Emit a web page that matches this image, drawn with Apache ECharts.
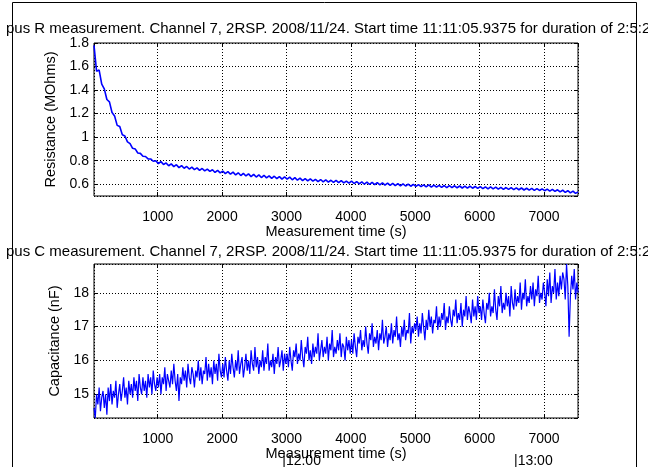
<!DOCTYPE html>
<html>
<head>
<meta charset="utf-8">
<script src="https://cdn.jsdelivr.net/npm/echarts@6/dist/echarts.min.js"></script>
<style>
  html, body { margin: 0; padding: 0; background: #fff; }
  #chart { width: 648px; height: 467px; }
</style>
</head>
<body>
<div id="chart"></div>
<script>
// sample times (s) of the resistance trace
const timeR = [
  10, 50, 90, 130, 170, 210, 250, 290, 330, 370, 410, 450, 490, 530, 570, 610, 650, 690, 730, 770, 810, 850, 890, 930, 970,
  1010, 1050, 1090, 1130, 1170, 1210, 1250, 1290, 1330, 1370, 1410, 1450, 1490, 1530, 1570, 1610, 1650, 1690, 1730, 1770, 1810, 1850, 1890, 1930, 1970,
  2010, 2050, 2090, 2130, 2170, 2210, 2250, 2290, 2330, 2370, 2410, 2450, 2490, 2530, 2570, 2610, 2650, 2690, 2730, 2770, 2810, 2850, 2890, 2930, 2970,
  3010, 3050, 3090, 3130, 3170, 3210, 3250, 3290, 3330, 3370, 3410, 3450, 3490, 3530, 3570, 3610, 3650, 3690, 3730, 3770, 3810, 3850, 3890, 3930, 3970,
  4010, 4050, 4090, 4130, 4170, 4210, 4250, 4290, 4330, 4370, 4410, 4450, 4490, 4530, 4570, 4610, 4650, 4690, 4730, 4770, 4810, 4850, 4890, 4930, 4970,
  5010, 5050, 5090, 5130, 5170, 5210, 5250, 5290, 5330, 5370, 5410, 5450, 5490, 5530, 5570, 5610, 5650, 5690, 5730, 5770, 5810, 5850, 5890, 5930, 5970,
  6010, 6050, 6090, 6130, 6170, 6210, 6250, 6290, 6330, 6370, 6410, 6450, 6490, 6530, 6570, 6610, 6650, 6690, 6730, 6770, 6810, 6850, 6890, 6930, 6970,
  7010, 7050, 7090, 7130, 7170, 7210, 7250, 7290, 7330, 7370, 7410, 7450, 7490, 7530
];

// resistance (MOhms)
const resistance = [
  1.78, 1.56, 1.57, 1.45, 1.41, 1.32, 1.30, 1.21, 1.18, 1.10, 1.09, 1.02, 1.01, 0.96, 0.945, 0.905, 0.90, 0.865, 0.862, 0.838, 0.836, 0.815, 0.815, 0.795, 0.80,
  0.775, 0.792, 0.768, 0.781, 0.757, 0.773, 0.750, 0.766, 0.741, 0.758, 0.736, 0.751, 0.729, 0.745, 0.724, 0.739, 0.718, 0.734, 0.713, 0.728, 0.709, 0.723, 0.700, 0.718, 0.697,
  0.712, 0.690, 0.707, 0.685, 0.703, 0.679, 0.697, 0.674, 0.692, 0.670, 0.688, 0.665, 0.684, 0.661, 0.679, 0.657, 0.676, 0.654, 0.671, 0.650, 0.668, 0.647, 0.665, 0.644, 0.662,
  0.643, 0.660, 0.638, 0.656, 0.634, 0.652, 0.631, 0.648, 0.628, 0.645, 0.626, 0.642, 0.623, 0.640, 0.620, 0.637, 0.618, 0.634, 0.615, 0.632, 0.613, 0.630, 0.611, 0.627, 0.609,
  0.626, 0.606, 0.623, 0.603, 0.620, 0.600, 0.618, 0.598, 0.615, 0.596, 0.613, 0.594, 0.611, 0.592, 0.609, 0.590, 0.607, 0.588, 0.605, 0.586, 0.603, 0.585, 0.601, 0.583, 0.599,
  0.581, 0.597, 0.579, 0.595, 0.578, 0.594, 0.576, 0.592, 0.575, 0.591, 0.574, 0.589, 0.572, 0.588, 0.571, 0.587, 0.570, 0.585, 0.568, 0.584, 0.567, 0.583, 0.566, 0.581, 0.564,
  0.580, 0.563, 0.578, 0.561, 0.577, 0.560, 0.575, 0.558, 0.574, 0.557, 0.572, 0.556, 0.571, 0.554, 0.569, 0.553, 0.568, 0.551, 0.566, 0.550, 0.565, 0.548, 0.563, 0.547, 0.561,
  0.545, 0.559, 0.542, 0.556, 0.539, 0.553, 0.535, 0.549, 0.531, 0.545, 0.527, 0.541, 0.522, 0.535
];

// sample times (s) of the capacitance trace
const timeC = [
  10, 30, 50, 70, 90, 110, 130, 150, 170, 190, 210, 230, 250, 270, 290, 310, 330, 350, 370, 390,
  410, 430, 450, 470, 490, 510, 530, 550, 570, 590, 610, 630, 650, 670, 690, 710, 730, 750, 770, 790,
  810, 830, 850, 870, 890, 910, 930, 950, 970, 990,
  1010, 1030, 1050, 1070, 1090, 1110, 1130, 1150, 1170, 1190, 1210, 1230, 1250, 1270, 1290, 1310, 1330, 1350, 1370, 1390,
  1410, 1430, 1450, 1470, 1490, 1510, 1530, 1550, 1570, 1590, 1610, 1630, 1650, 1670, 1690, 1710, 1730, 1750, 1770, 1790,
  1810, 1830, 1850, 1870, 1890, 1910, 1930, 1950, 1970, 1990,
  2010, 2030, 2050, 2070, 2090, 2110, 2130, 2150, 2170, 2190, 2210, 2230, 2250, 2270, 2290, 2310, 2330, 2350, 2370, 2390,
  2410, 2430, 2450, 2470, 2490, 2510, 2530, 2550, 2570, 2590, 2610, 2630, 2650, 2670, 2690, 2710, 2730, 2750, 2770, 2790,
  2810, 2830, 2850, 2870, 2890, 2910, 2930, 2950, 2970, 2990,
  3010, 3030, 3050, 3070, 3090, 3110, 3130, 3150, 3170, 3190, 3210, 3230, 3250, 3270, 3290, 3310, 3330, 3350, 3370, 3390,
  3410, 3430, 3450, 3470, 3490, 3510, 3530, 3550, 3570, 3590, 3610, 3630, 3650, 3670, 3690, 3710, 3730, 3750, 3770, 3790,
  3810, 3830, 3850, 3870, 3890, 3910, 3930, 3950, 3970, 3990,
  4010, 4030, 4050, 4070, 4090, 4110, 4130, 4150, 4170, 4190, 4210, 4230, 4250, 4270, 4290, 4310, 4330, 4350, 4370, 4390,
  4410, 4430, 4450, 4470, 4490, 4510, 4530, 4550, 4570, 4590, 4610, 4630, 4650, 4670, 4690, 4710, 4730, 4750, 4770, 4790,
  4810, 4830, 4850, 4870, 4890, 4910, 4930, 4950, 4970, 4990,
  5010, 5030, 5050, 5070, 5090, 5110, 5130, 5150, 5170, 5190, 5210, 5230, 5250, 5270, 5290, 5310, 5330, 5350, 5370, 5390,
  5410, 5430, 5450, 5470, 5490, 5510, 5530, 5550, 5570, 5590, 5610, 5630, 5650, 5670, 5690, 5710, 5730, 5750, 5770, 5790,
  5810, 5830, 5850, 5870, 5890, 5910, 5930, 5950, 5970, 5990,
  6010, 6030, 6050, 6070, 6090, 6110, 6130, 6150, 6170, 6190, 6210, 6230, 6250, 6270, 6290, 6310, 6330, 6350, 6370, 6390,
  6410, 6430, 6450, 6470, 6490, 6510, 6530, 6550, 6570, 6590, 6610, 6630, 6650, 6670, 6690, 6710, 6730, 6750, 6770, 6790,
  6810, 6830, 6850, 6870, 6890, 6910, 6930, 6950, 6970, 6990,
  7010, 7030, 7050, 7070, 7090, 7110, 7130, 7150, 7170, 7190, 7210, 7230, 7250, 7270, 7290, 7310, 7330, 7350, 7370, 7390,
  7410, 7430, 7450, 7470, 7490, 7510, 7530
];

// capacitance (nF)
const capacitance = [
  14.6, 14.3, 15.0, 14.7, 15.2, 14.5, 14.9, 15.1, 14.6, 15.0, 14.4, 15.2, 14.8, 15.3, 14.7, 15.1, 14.9, 15.4, 14.6, 15.0,
  15.3, 14.8, 15.1, 15.5, 14.9, 15.2, 14.7, 15.4, 15.0, 15.3, 14.9, 15.5, 15.1, 15.4, 14.8, 15.6, 15.2, 15.0, 15.5, 15.1,
  15.4, 14.9, 15.6, 15.2, 15.5, 15.0, 15.7, 15.3, 15.1, 15.5,
  15.2, 15.6, 15.0, 15.5, 15.3, 15.8, 15.1, 15.6, 15.4, 15.2, 15.7, 15.3, 15.9, 15.4, 15.1, 15.6, 14.8, 15.5, 15.3, 15.8,
  15.4, 15.7, 15.2, 15.9, 15.5, 15.3, 15.8, 15.6, 15.2, 15.7, 15.5, 16.0, 15.4, 15.8, 15.3, 15.7, 15.6, 16.1, 15.4, 15.9,
  15.5, 15.8, 15.3, 16.0, 15.6, 15.9, 15.4, 16.2, 15.7, 15.5,
  15.9, 15.5, 16.1, 15.7, 15.4, 16.0, 15.6, 16.2, 15.8, 15.5, 16.0, 15.7, 16.3, 15.6, 15.9, 16.1, 15.5, 15.8, 16.2, 15.7,
  16.0, 15.6, 16.3, 15.9, 15.7, 16.4, 15.8, 16.1, 15.6, 16.0, 15.8, 16.3, 15.7, 16.1, 15.9, 16.5, 15.7, 16.0, 15.8, 16.2,
  15.6, 16.1, 15.9, 16.4, 15.8, 16.0, 16.3, 15.7, 16.2, 15.9,
  16.2, 15.8, 16.4, 16.0, 15.7, 16.3, 16.1, 16.5, 15.9, 16.2, 16.0, 16.6, 16.1, 15.8, 16.4, 16.2, 16.7, 16.0, 16.3, 15.9,
  16.5, 16.1, 16.4, 16.2, 16.8, 16.0, 16.3, 16.6, 16.1, 16.4, 16.2, 16.7, 16.0, 16.5, 16.3, 16.9, 16.1, 16.4, 16.2, 16.6,
  16.3, 16.8, 16.1, 16.5, 16.4, 16.0, 16.7, 16.3, 16.6, 16.2,
  16.6, 16.2, 16.8, 16.4, 16.1, 16.7, 16.5, 16.9, 16.3, 16.6, 16.4, 17.0, 16.5, 16.2, 16.8, 16.6, 17.1, 16.4, 16.7, 16.5,
  16.9, 16.3, 16.8, 16.6, 17.2, 16.5, 16.7, 17.0, 16.4, 16.8, 16.6, 17.1, 16.5, 16.9, 16.7, 17.3, 16.6, 16.8, 16.4, 17.0,
  16.7, 17.2, 16.6, 16.9, 16.8, 17.4, 16.5, 17.0, 16.8, 17.1,
  16.9, 17.3, 16.7, 17.1, 16.8, 17.4, 17.0, 16.6, 17.2, 16.9, 17.5, 17.0, 17.3, 16.8, 17.2, 17.1, 17.6, 16.9, 17.3, 17.0,
  17.4, 17.2, 17.7, 16.9, 17.3, 17.1, 17.6, 17.2, 17.0, 17.5, 17.3, 17.8, 17.1, 17.4, 17.2, 17.7, 17.0, 17.5, 17.3, 17.9,
  17.2, 17.6, 17.4, 17.1, 17.8, 17.3, 17.6, 17.2, 17.9, 17.4,
  17.6, 17.2, 17.8, 17.4, 17.1, 17.7, 17.5, 18.0, 17.3, 17.6, 17.4, 18.1, 17.5, 17.2, 17.9, 17.6, 18.2, 17.4, 17.7, 17.5,
  18.0, 17.6, 17.9, 17.3, 18.2, 17.7, 17.5, 18.1, 17.6, 17.9, 17.7, 18.3, 17.5, 18.0, 17.8, 18.4, 17.6, 17.9, 17.7, 18.2,
  17.8, 18.3, 17.6, 18.1, 17.9, 18.5, 17.7, 18.0, 17.8, 18.3,
  18.0, 17.6, 18.4, 17.9, 18.6, 17.7, 18.2, 18.0, 18.7, 17.8, 18.3, 17.9, 18.5, 18.1, 18.6, 18.4, 17.8, 18.85, 18.2, 16.7,
  17.9, 18.5, 18.1, 18.7, 17.8, 18.3, 18.0
];

const titleR = 'pus R measurement. Channel 7, 2RSP. 2008/11/24. Start time 11:11:05.9375 for duration of 2:5:2';
const titleC = 'pus C measurement. Channel 7, 2RSP. 2008/11/24. Start time 11:11:05.9375 for duration of 2:5:2';

// clock-time marks on the time axis
const clockMarks = [
  { t: 2934, label: '|12:00' },
  { t: 6534, label: '|13:00' },
];

const font = '"Liberation Sans", Arial, Helvetica, sans-serif';
const tickFont = 14;
const nameFont = 14.5;
const titleFont = 15;
const timeMin = 10;
const timeMax = 7528;

const dotted = { show: true, lineStyle: { color: '#000', width: 1, type: [1, 2] } };
const tick = { show: true, inside: true, length: 4, lineStyle: { color: '#000', width: 1 } };

function timeAxis(gridIndex, withLabels) {
  return {
    type: 'value',
    gridIndex: gridIndex,
    position: withLabels ? 'bottom' : 'top',
    min: timeMin,
    max: timeMax,
    splitNumber: 8,
    axisLine: { show: false },
    axisTick: tick,
    axisLabel: {
      show: withLabels,
      color: '#000',
      fontSize: tickFont,
      fontFamily: font,
      margin: 14,
      showMinLabel: false,
      showMaxLabel: false,
      formatter: (v) => String(v),
    },
    splitLine: withLabels ? dotted : { show: false },
    name: withLabels ? 'Measurement time (s)' : '',
    nameLocation: 'middle',
    nameGap: 23,
    nameTextStyle: { color: '#000', fontSize: nameFont, fontFamily: font },
  };
}

function valueAxis(gridIndex, withLabels, min, max, splitNumber, name, hideMax) {
  return {
    type: 'value',
    gridIndex: gridIndex,
    position: withLabels ? 'left' : 'right',
    min: min,
    max: max,
    splitNumber: splitNumber,
    axisLine: { show: false },
    axisTick: tick,
    axisLabel: {
      show: withLabels,
      color: '#000',
      fontSize: tickFont,
      fontFamily: font,
      margin: 5,
      showMinLabel: false,
      showMaxLabel: !hideMax,
    },
    splitLine: withLabels ? dotted : { show: false },
    name: withLabels ? name : '',
    nameLocation: 'middle',
    nameGap: 29,
    nameTextStyle: { color: '#000', fontSize: nameFont, fontFamily: font },
  };
}

const chart = echarts.init(document.getElementById('chart'));

const option = {
  animation: false,
  backgroundColor: '#fff',
  title: [
    { text: titleR, left: 1, top: 16, textStyle: { color: '#000', fontSize: titleFont, fontWeight: 'normal', fontFamily: font } },
    { text: titleC, left: 1, top: 239, textStyle: { color: '#000', fontSize: titleFont, fontWeight: 'normal', fontFamily: font } },
  ],
  grid: [
    { left: 94, right: 70, top: 43, height: 153, show: true, borderColor: '#000', borderWidth: 1, backgroundColor: '#fff' },
    { left: 94, right: 70, top: 264, height: 154, show: true, borderColor: '#000', borderWidth: 1, backgroundColor: '#fff' },
  ],
  xAxis: [
    timeAxis(0, true),
    timeAxis(0, false),
    timeAxis(1, true),
    timeAxis(1, false),
  ],
  yAxis: [
    valueAxis(0, true, 0.5, 1.8, 6, 'Resistance (MOhms)', false),
    valueAxis(0, false, 0.5, 1.8, 6, '', false),
    valueAxis(1, true, 14.3, 18.85, 5, 'Capacitance (nF)', true),
    valueAxis(1, false, 14.3, 18.85, 5, '', true),
  ],
  series: [
    {
      type: 'line',
      xAxisIndex: 0,
      yAxisIndex: 0,
      data: timeR.map((t, i) => [t, resistance[i]]),
      symbol: 'none',
      lineStyle: { color: '#0000ff', width: 1.6 },
      clip: true,
    },
    {
      type: 'line',
      xAxisIndex: 2,
      yAxisIndex: 2,
      data: timeC.map((t, i) => [t, capacitance[i]]),
      symbol: 'none',
      lineStyle: { color: '#0000ff', width: 1.2 },
      clip: true,
    },
  ],
  graphic: [
    {
      id: 'frame',
      type: 'rect',
      shape: { x: 12.5, y: 2.5, width: 624, height: 470 },
      style: { fill: null, stroke: '#000', lineWidth: 1 },
      silent: true,
      z: -1,
    },
  ],
};

chart.setOption(option);

// place the clock-time marks at their time positions on the lower axis
const markEls = clockMarks.map((m, i) => ({
  id: 'clock' + i,
  type: 'text',
  x: chart.convertToPixel({ xAxisIndex: 2 }, m.t),
  y: 454,
  style: { text: m.label, fill: '#000', font: tickFont + 'px ' + font, textAlign: 'left', textVerticalAlign: 'top' },
  silent: true,
}));
chart.setOption({ graphic: markEls });
</script>
</body>
</html>
